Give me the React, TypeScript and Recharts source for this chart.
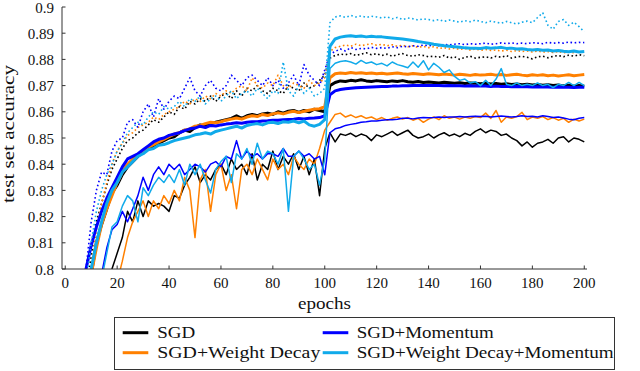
import React from 'react';
import { LineChart, Line, XAxis, YAxis, Legend } from 'recharts';

// epochs sampled every 2 epochs (2..200)
const EPOCHS: number[] = Array.from({ length: 100 }, (_, i) => 2 * (i + 1));

// values in units of 1e-4 (8715 -> 0.8715)
const SGD_DOT = [
  7000, 7300, 7600, 7900, 8050, 8180, 8250, 8320, 8380, 8420,
  8460, 8490, 8500, 8520, 8530, 8550, 8570, 8560, 8580, 8600,
  8590, 8620, 8610, 8640, 8630, 8650, 8640, 8660, 8640, 8660,
  8670, 8650, 8680, 8660, 8690, 8680, 8700, 8680, 8670, 8690,
  8680, 8670, 8700, 8690, 8680, 8710, 8690, 8700, 8720, 8740,
  8805, 8815, 8820, 8818, 8822, 8815, 8820, 8825, 8818, 8822,
  8815, 8820, 8812, 8818, 8822, 8815, 8812, 8818, 8815, 8810,
  8812, 8808, 8815, 8805, 8810, 8800, 8808, 8812, 8805, 8808,
  8810, 8805, 8812, 8808, 8815, 8805, 8810, 8812, 8808, 8802,
  8810, 8812, 8806, 8812, 8815, 8810, 8816, 8812, 8818, 8814,
];
const WD_DOT = [
  7000, 7200, 7500, 7800, 8000, 8150, 8250, 8330, 8400, 8450,
  8480, 8510, 8520, 8540, 8550, 8560, 8580, 8570, 8590, 8600,
  8610, 8620, 8640, 8630, 8650, 8640, 8660, 8650, 8670, 8660,
  8680, 8670, 8690, 8700, 8680, 8730, 8700, 8690, 8710, 8700,
  8740, 8700, 8690, 8710, 8700, 8690, 8720, 8700, 8710, 8730,
  8830, 8845, 8850, 8855, 8850, 8858, 8852, 8856, 8860, 8854,
  8858, 8852, 8856, 8850, 8854, 8848, 8852, 8846, 8850, 8845,
  8848, 8842, 8845, 8840, 8843, 8838, 8842, 8836, 8840, 8835,
  8838, 8834, 8836, 8832, 8835, 8830, 8834, 8830, 8832, 8828,
  8832, 8828, 8830, 8826, 8830, 8825, 8828, 8826, 8830, 8828,
];
const MOM_DOT = [
  7200, 7600, 7900, 8000, 8180, 8300, 8370, 8360, 8450, 8490,
  8500, 8560, 8570, 8540, 8600, 8630, 8580, 8650, 8610, 8640,
  8660, 8650, 8690, 8730, 8680, 8660, 8700, 8720, 8690, 8680,
  8700, 8740, 8720, 8700, 8730, 8740, 8720, 8700, 8730, 8700,
  8720, 8690, 8710, 8740, 8700, 8780, 8740, 8720, 8700, 8760,
  8820, 8830, 8840, 8832, 8845, 8838, 8842, 8840, 8846, 8842,
  8845, 8842, 8848, 8845, 8850, 8848, 8852, 8850, 8855, 8852,
  8855, 8852, 8858, 8855, 8858, 8860, 8856, 8860, 8858, 8860,
  8862, 8858, 8860, 8863, 8860, 8863, 8860, 8862, 8860, 8864,
  8862, 8860, 8865, 8862, 8864, 8862, 8866, 8863, 8865, 8864,
];
const WDM_DOT = [
  7000, 7400, 7700, 7950, 8100, 8220, 8300, 8360, 8400, 8450,
  8480, 8520, 8540, 8560, 8550, 8580, 8600, 8590, 8620, 8610,
  8620, 8640, 8620, 8650, 8640, 8660, 8630, 8650, 8660, 8640,
  8660, 8680, 8650, 8670, 8680, 8660, 8690, 8670, 8650, 8680,
  8670, 8790, 8680, 8660, 8700, 8670, 8690, 8660, 8670, 8690,
  8940, 8962, 8966, 8960, 8968, 8962, 8966, 8960, 8965, 8962,
  8958, 8962, 8955, 8960, 8952, 8958, 8955, 8950, 8955, 8952,
  8948, 8952, 8945, 8950, 8946, 8942, 8948, 8944, 8950, 8945,
  8940, 8946, 8942, 8938, 8945, 8940, 8935, 8942, 8946, 8940,
  8960, 8978, 8930, 8915, 8945, 8952, 8930, 8942, 8925, 8905,
];

const SGD_THICK = [
  7000, 7300, 7600, 7800, 7980, 8100, 8170, 8230, 8290, 8320,
  8360, 8390, 8410, 8430, 8445, 8460, 8470, 8480, 8490, 8500,
  8505, 8520, 8530, 8525, 8540, 8550, 8545, 8555, 8560, 8565,
  8570, 8575, 8585, 8575, 8585, 8590, 8585, 8592, 8595, 8590,
  8600, 8595, 8602, 8605, 8598, 8605, 8600, 8610, 8605, 8600,
  8700, 8712, 8718, 8716, 8720, 8718, 8722, 8718, 8716, 8719,
  8717, 8715, 8718, 8716, 8719, 8715, 8713, 8716, 8712, 8714,
  8712, 8710, 8713, 8711, 8709, 8711, 8708, 8710, 8709, 8707,
  8709, 8706, 8708, 8705, 8707, 8704, 8706, 8703, 8705, 8702,
  8704, 8701, 8703, 8700, 8702, 8699, 8701, 8698, 8700, 8698,
];
const WD_THICK = [
  7000, 7250, 7550, 7800, 7980, 8080, 8170, 8230, 8280, 8330,
  8370, 8400, 8420, 8435, 8450, 8465, 8475, 8485, 8495, 8505,
  8515, 8520, 8530, 8535, 8545, 8548, 8555, 8560, 8558, 8562,
  8568, 8572, 8576, 8572, 8580, 8585, 8582, 8590, 8586, 8592,
  8596, 8592, 8598, 8602, 8597, 8602, 8606, 8610, 8612, 8620,
  8730, 8745, 8748, 8746, 8750, 8747, 8749, 8746, 8748, 8745,
  8747, 8744, 8746, 8748, 8745, 8743, 8746, 8744, 8742, 8745,
  8743, 8741, 8744, 8742, 8740, 8743, 8741, 8739, 8742, 8740,
  8741, 8743, 8740, 8742, 8739, 8741, 8743, 8740, 8738, 8741,
  8739, 8741, 8738, 8740, 8737, 8739, 8741, 8738, 8740, 8742,
];
const MOM_THICK = [
  7100, 7500, 7800, 8000, 8090, 8160, 8220, 8270, 8310, 8350,
  8390, 8420, 8430, 8440, 8455, 8470, 8485, 8495, 8500, 8510,
  8515, 8520, 8528, 8535, 8538, 8545, 8540, 8548, 8546, 8550,
  8553, 8555, 8558, 8556, 8560, 8562, 8562, 8565, 8566, 8568,
  8568, 8570, 8571, 8572, 8574, 8573, 8575, 8576, 8578, 8585,
  8665, 8680, 8685, 8688, 8690, 8692, 8693, 8694, 8695, 8696,
  8697, 8697, 8698, 8698, 8699, 8699, 8700, 8700, 8700, 8700,
  8700, 8700, 8699, 8700, 8699, 8699, 8698, 8699, 8698, 8698,
  8698, 8697, 8698, 8697, 8697, 8696, 8697, 8696, 8696, 8695,
  8696, 8695, 8695, 8694, 8695, 8694, 8694, 8693, 8694, 8694,
];
const WDM_THICK = [
  7000, 7300, 7600, 7850, 8000, 8100, 8180, 8250, 8300, 8330,
  8370, 8390, 8410, 8430, 8440, 8455, 8460, 8472, 8475, 8482,
  8490, 8495, 8500, 8505, 8512, 8515, 8520, 8515, 8525, 8530,
  8535, 8540, 8545, 8538, 8548, 8552, 8555, 8550, 8558, 8560,
  8555, 8562, 8560, 8565, 8558, 8565, 8550, 8545, 8552, 8570,
  8850, 8878, 8885, 8888, 8890, 8887, 8889, 8886, 8888, 8886,
  8886, 8884, 8882, 8880, 8878, 8875, 8872, 8868, 8865, 8862,
  8858, 8855, 8852, 8850, 8848, 8846, 8844, 8843, 8843, 8842,
  8845, 8843, 8844, 8846, 8842, 8843, 8840, 8841, 8838, 8836,
  8838, 8835, 8836, 8832, 8834, 8831, 8829, 8832, 8828, 8830,
];

const SGD_THIN = [
  7000, 7100, 7200, 7300, 7450, 7600, 7750, 7880, 8000, 8060,
  8120, 8220, 8180, 8260, 8200, 8260, 8240, 8250, 8240, 8220,
  8280, 8270, 8320, 8350, 8390, 8330, 8360, 8340, 8380, 8400,
  8360, 8420, 8380, 8400, 8360, 8440, 8340, 8400, 8380, 8450,
  8380, 8430, 8400, 8440, 8380, 8430, 8360, 8420, 8280, 8460,
  8520, 8485, 8515, 8510, 8518, 8505, 8515, 8508, 8490, 8512,
  8505, 8515, 8525, 8510, 8520, 8530, 8510, 8500, 8505, 8515,
  8500, 8512, 8520, 8508, 8515, 8505, 8518, 8510, 8525, 8535,
  8520, 8530, 8525, 8510, 8515, 8500, 8490, 8470, 8485, 8465,
  8480, 8485, 8495, 8480, 8500, 8505, 8485, 8500, 8495, 8485,
];
const WD_THIN = [
  7000, 7050, 7150, 7250, 7350, 7500, 7650, 7800, 7900, 7950,
  8030, 8120, 8180, 8220, 8260, 8200, 8260, 8230, 8280, 8250,
  8300, 8260, 8350, 8300, 8120, 8340, 8380, 8220, 8360, 8400,
  8300, 8360, 8230, 8380, 8400, 8360, 8420, 8380, 8340, 8420,
  8380, 8400, 8360, 8430, 8400, 8380, 8420, 8400, 8460, 8530,
  8560, 8590, 8595, 8580, 8588, 8578, 8585, 8575, 8580, 8570,
  8578, 8568, 8575, 8580, 8572, 8578, 8568, 8575, 8560, 8572,
  8580, 8570, 8585, 8575, 8580, 8572, 8580, 8575, 8582, 8578,
  8595, 8575, 8605, 8560, 8580, 8575, 8582, 8598, 8570, 8580,
  8575, 8582, 8570, 8578, 8568, 8575, 8560, 8572, 8565, 8572,
];
const MOM_THIN = [
  7000, 7200, 7450, 7650, 7800, 7900, 7980, 8080, 8150, 8170,
  8220, 8180, 8230, 8280, 8350, 8300, 8360, 8390, 8360, 8400,
  8380, 8400, 8360, 8380, 8400, 8390, 8370, 8400, 8410, 8390,
  8430, 8420, 8490, 8420, 8450, 8430, 8440, 8420, 8440, 8440,
  8430, 8460, 8430, 8430, 8450, 8430, 8440, 8420, 8430, 8360,
  8520, 8535, 8540, 8548, 8552, 8555, 8560, 8562, 8565, 8565,
  8568, 8570, 8570, 8572, 8575, 8575, 8573, 8576, 8578, 8577,
  8578, 8580, 8578, 8580, 8580, 8582, 8580, 8582, 8583, 8582,
  8583, 8580, 8582, 8584, 8582, 8580, 8582, 8585, 8582, 8583,
  8580, 8585, 8582, 8578, 8580, 8576, 8572, 8570, 8575, 8578,
];
const WDM_THIN = [
  7000, 7300, 7550, 7750, 7850, 7900, 7960, 8060, 8160, 8180,
  8240, 8280, 8260, 8180, 8310, 8280, 8320, 8350, 8330, 8360,
  8330, 8380, 8320, 8400, 8360, 8400, 8340, 8290, 8380, 8410,
  8430, 8330, 8440, 8420, 8460, 8400, 8480, 8420, 8450, 8440,
  8400, 8460, 8220, 8430, 8450, 8420, 8380, 8400, 8320, 8420,
  8765, 8785, 8792, 8795, 8790, 8782, 8796, 8785, 8790, 8780,
  8785, 8775, 8790, 8780, 8775, 8768, 8790, 8770, 8795, 8760,
  8785, 8770, 8750, 8760, 8735, 8720, 8725, 8710, 8715, 8700,
  8720, 8700, 8725, 8765, 8705, 8700, 8710, 8700, 8705, 8700,
  8710, 8700, 8705, 8692, 8705, 8700, 8712, 8700, 8712, 8700,
];

const X_TICKS = [0, 20, 40, 60, 80, 100, 120, 140, 160, 180, 200];
const Y_TICKS = [0.8, 0.81, 0.82, 0.83, 0.84, 0.85, 0.86, 0.87, 0.88, 0.89, 0.9];
const Y_TICK_LABELS = ['0.8', '0.81', '0.82', '0.83', '0.84', '0.85', '0.86', '0.87', '0.88', '0.89', '0.9'];
const METHODS = ['SGD', 'SGD+Weight Decay', 'SGD+Momentum', 'SGD+Weight Decay+Momentum'];

const COLORS = ['#000000', '#ff8000', '#0000ff', '#10aaea'];
const FONT = "'Liberation Serif', 'Times New Roman', Times, 'DejaVu Serif', serif";
const TXT = { fontFamily: FONT } as React.CSSProperties;
const AXIS = '#333333';

const SERIES = [
  { key: 'sgdDot', values: SGD_DOT, m: 0, kind: 'dot' },
  { key: 'sgdThick', values: SGD_THICK, m: 0, kind: 'thick' },
  { key: 'sgdThin', values: SGD_THIN, m: 0, kind: 'thin' },
  { key: 'wdDot', values: WD_DOT, m: 1, kind: 'dot' },
  { key: 'wdThick', values: WD_THICK, m: 1, kind: 'thick' },
  { key: 'wdThin', values: WD_THIN, m: 1, kind: 'thin' },
  { key: 'momDot', values: MOM_DOT, m: 2, kind: 'dot' },
  { key: 'momThick', values: MOM_THICK, m: 2, kind: 'thick' },
  { key: 'momThin', values: MOM_THIN, m: 2, kind: 'thin' },
  { key: 'wdmDot', values: WDM_DOT, m: 3, kind: 'dot' },
  { key: 'wdmThick', values: WDM_THICK, m: 3, kind: 'thick' },
  { key: 'wdmThin', values: WDM_THIN, m: 3, kind: 'thin' },
];

const data = EPOCHS.map((epoch, i) => {
  const row: Record<string, number> = { epoch };
  SERIES.forEach((s) => {
    row[s.key] = s.values[i] / 10000;
  });
  return row;
});

const XTick = (props: any) => {
  const { x, y, payload } = props;
  return (
    <g>
      <line x1={x} x2={x} y1={y} y2={y - 3.5} stroke={AXIS} strokeWidth={1} />
      <text x={x} y={y + 18.5} textAnchor="middle" style={TXT} fontSize={15} fill="#111">
        {payload.value}
      </text>
    </g>
  );
};

const YTick = (props: any) => {
  const { x, y, payload, index } = props;
  const label = Y_TICK_LABELS[index] ?? String(payload.value);
  return (
    <g>
      <line x1={x} x2={x + 3.5} y1={y} y2={y} stroke={AXIS} strokeWidth={1} />
      <text x={x - 8} y={y + 5.6} textAnchor="end" style={TXT} fontSize={15} fill="#111">
        {label}
      </text>
    </g>
  );
};

const XLabel = (props: any) => {
  const vb = props.viewBox || { x: 62, y: 269, width: 525 };
  return (
    <text x={vb.x + vb.width / 2} y={vb.y + 40} textAnchor="middle" style={TXT} fontSize={16} fill="#111" textLength={53} lengthAdjust="spacingAndGlyphs">
      epochs
    </text>
  );
};

const YLabel = (props: any) => {
  const vb = props.viewBox || { x: 0, y: 7, width: 62, height: 262 };
  const cx = 14;
  const cy = vb.y + vb.height / 2 - 4;
  return (
    <text x={cx} y={cy} transform={`rotate(-90, ${cx}, ${cy})`} textAnchor="middle" style={TXT} fontSize={16} fill="#111" textLength={138} lengthAdjust="spacingAndGlyphs">
      test set accuracy
    </text>
  );
};

const LEGEND_TEXT_LEN = [38, 163, 137, 257];

const renderLegend = () => (
  <svg width={502} height={54} style={{ display: 'block' }}>
    <rect x={0.5} y={0.5} width={500} height={52} fill="#fff" stroke="#333" strokeWidth={1} />
    {METHODS.map((name, i) => {
      const row = i % 2;
      const colIdx = i < 2 ? 0 : 1;
      const lx = colIdx === 0 ? 8.7 : 208.7;
      const tx = colIdx === 0 ? 43.3 : 242.7;
      const ly = row === 0 ? 15.7 : 35.7;
      return (
        <g key={name}>
          <line x1={lx} x2={lx + 25.6} y1={ly} y2={ly} stroke={COLORS[i]} strokeWidth={3} />
          <text x={tx} y={ly + 5.6} style={TXT} fontSize={16} fill="#111" textLength={LEGEND_TEXT_LEN[i]} lengthAdjust="spacingAndGlyphs">
            {name}
          </text>
        </g>
      );
    })}
  </svg>
);

export default function App() {
  return (
    <div style={{ position: 'absolute', left: 0, top: 0, width: 640, height: 371, background: '#fff' }}>
      <LineChart width={640} height={371} data={data} margin={{ top: 7, right: 53, bottom: 0, left: 0 }} style={TXT}>
        <XAxis
          dataKey="epoch"
          type="number"
          domain={[-1.25, 201.05]}
          ticks={X_TICKS}
          allowDataOverflow
          height={102}
          tickSize={0}
          tickMargin={0}
          tickLine={false}
          axisLine={{ stroke: AXIS, strokeWidth: 1 }}
          tick={<XTick />}
          interval={0}
          label={<XLabel />}
        />
        <YAxis
          type="number"
          domain={[0.8, 0.9]}
          ticks={Y_TICKS}
          allowDataOverflow
          width={62}
          tickSize={0}
          tickMargin={0}
          tickLine={false}
          axisLine={{ stroke: AXIS, strokeWidth: 1 }}
          tick={<YTick />}
          interval={0}
          label={<YLabel />}
        />
        <Legend
          layout="horizontal"
          verticalAlign="middle"
          align="center"
          content={renderLegend}
          wrapperStyle={{ left: 114, top: 317, width: 502, height: 54, margin: 0, padding: 0 }}
        />
        {SERIES.map((s) => (
          <Line
            key={s.key}
            dataKey={s.key}
            type="linear"
            stroke={COLORS[s.m]}
            strokeWidth={s.kind === 'thick' ? 3 : s.kind === 'thin' ? 1.5 : 1.6}
            strokeDasharray={s.kind === 'dot' ? '1.6 2.6' : undefined}
            strokeLinejoin="round"
            dot={false}
            activeDot={false}
            legendType="none"
            isAnimationActive={false}
          />
        ))}
      </LineChart>
    </div>
  );
}
